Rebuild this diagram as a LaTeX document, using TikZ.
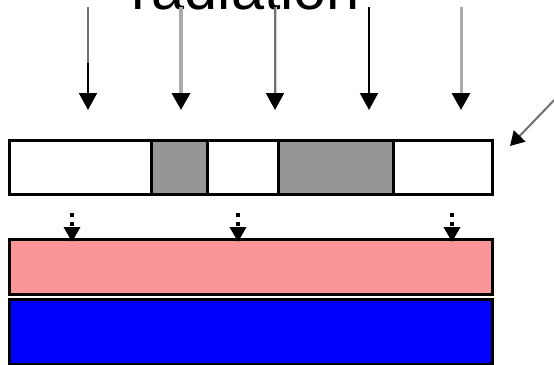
\documentclass[tikz,border=0pt]{standalone}
\usepackage{fontspec}
\setmainfont{Liberation Sans}
\usetikzlibrary{arrows.meta}
\definecolor{maskgray}{HTML}{969696}
\definecolor{resistpink}{HTML}{FA9698}
\definecolor{raydark}{HTML}{707070}
\definecolor{raylight}{HTML}{AAAAAA}
\definecolor{raypale}{HTML}{D0D0D0}
\tikzset{
  cell/.style={draw=black, line width=3pt, minimum height=54pt, inner sep=0pt, anchor=north west},
  layer/.style={draw=black, line width=3pt, inner sep=0pt, anchor=north west, minimum width=483pt},
  ray/.style={line width=2pt, -{Triangle[width=18pt,length=17pt,color=black]}},
  dotarrow/.style={line width=3.5pt, dash pattern=on 3.5pt off 5.5pt, -{Triangle[width=16pt,length=15pt,color=black]}},
}
\begin{document}
\begin{tikzpicture}[x=1pt,y=-1pt]
\useasboundingbox (0,0) rectangle (554,364);
\clip (0,0) rectangle (554,364);
% title
\node[anchor=base, font=\fontsize{59.5}{60}\selectfont, inner sep=0pt] (title) at (246,9.5) {radiation};
% mask cells
\node[cell, minimum width=142pt, fill=white] (m1) at (8,139) {};
\node[cell, minimum width=56pt, fill=maskgray] (m2) at (150,139) {};
\node[cell, minimum width=71pt, fill=white] (m3) at (206,139) {};
\node[cell, minimum width=115pt, fill=maskgray] (m4) at (277,139) {};
\node[cell, minimum width=99pt, fill=white] (m5) at (392,139) {};
% layers
\node[layer, minimum height=55pt, fill=resistpink] (resist) at (8,238) {};
\node[layer, minimum height=65pt, fill=blue] (substrate) at (8,298) {};
% radiation arrows
\coordinate (r1s) at (88,7);   \coordinate (r1e) at (88,110);
\coordinate (r2s) at (181,7);  \coordinate (r2e) at (181,110);
\coordinate (r3s) at (275,7);  \coordinate (r3e) at (275,110);
\coordinate (r4s) at (369,7);  \coordinate (r4e) at (369,110);
\coordinate (r5s) at (461,7);  \coordinate (r5e) at (461,110);
\coordinate (r1m) at (88,63);
\coordinate (r3m) at (276.5,93);
\draw[ray, draw=black] (r1s) -- (r1e);
\draw[line width=2pt, raydark] (r1s) -- (r1m);
\draw[ray, draw=raylight, line width=3.5pt] (r2s) -- (r2e);
\draw[line width=1pt, raypale] ([xshift=1.5pt]r3s) -- (r3m);
\draw[ray, draw=raydark] (r3s) -- (r3e);
\draw[ray, draw=black] (r4s) -- (r4e);
\draw[ray, draw=raylight, line width=3pt] (r5s) -- (r5e);
% pointer to mask
\coordinate (ps) at (560,94);
\coordinate (pe) at (510,146);
\draw[line width=2pt, raydark, -{Triangle[width=16pt,length=14pt,color=black]}] (ps) -- (pe);
% transmitted (dotted) arrows
\coordinate (d1) at (72,213);
\coordinate (d2) at (238,213);
\coordinate (d3) at (452,213);
\draw[dotarrow] (d1) -- ([yshift=-4pt]resist.north -| d1);
\draw[dotarrow] (d2) -- ([yshift=-4pt]resist.north -| d2);
\draw[dotarrow] (d3) -- ([yshift=-4pt]resist.north -| d3);
\end{tikzpicture}
\end{document}
